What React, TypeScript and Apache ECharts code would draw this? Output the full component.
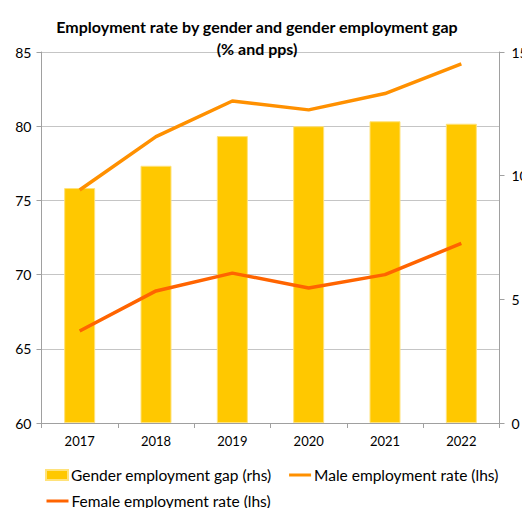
import React, { useEffect, useRef } from "react";
import * as echarts from "echarts";

const years = ["2017", "2018", "2019", "2020", "2021", "2022"];
const genderGap = [9.5, 10.4, 11.6, 12.0, 12.2, 12.1];
const maleRate = [75.7, 79.3, 81.7, 81.1, 82.2, 84.2];
const femaleRate = [66.2, 68.9, 70.1, 69.1, 70.0, 72.1];

const GAP = "Gender employment gap (rhs)";
const MALE = "Male employment rate (lhs)";
const FEMALE = "Female employment rate (lhs)";

const FONT = "Lato";
const AXIS_COLOR = "#a0a0a0";

export default function App() {
  const ref = useRef<HTMLDivElement>(null);
  useEffect(() => {
    if (!ref.current) return;
    const chart = echarts.init(ref.current, undefined, { renderer: "svg" });
    const legendBase = {
      orient: "horizontal",
      itemWidth: 22,
      itemHeight: 10,
      itemGap: 16,
      textStyle: { fontFamily: FONT, fontSize: 15.5, color: "#000", padding: [0, 0, 0, -2] },
      lineStyle: { width: 3 },
    };
    chart.setOption({
      animation: false,
      backgroundColor: "#fff",
      title: {
        text: "Employment rate by gender and gender employment gap\n(% and pps)",
        left: 252,
        textAlign: "center",
        top: 10,
        textStyle: {
          fontFamily: FONT,
          fontWeight: "bold",
          fontSize: 16,
          lineHeight: 22,
          color: "#000",
        },
      },
      legend: [
        {
          ...legendBase,
          left: 40,
          top: 462,
          data: [
            { name: GAP, icon: "rect" },
            { name: MALE, itemStyle: { opacity: 0 } },
          ],
        },
        {
          ...legendBase,
          left: 40,
          top: 488,
          data: [{ name: FEMALE, itemStyle: { opacity: 0 } }],
        },
      ],
      grid: { left: 41.5, right: 22.5, top: 52, bottom: 85, containLabel: false, outerBoundsMode: "none" },
      xAxis: {
        type: "category",
        data: years,
        axisLine: { show: true, lineStyle: { color: AXIS_COLOR, width: 1 } },
        axisTick: { show: true, length: 5, inside: false, lineStyle: { color: AXIS_COLOR } },
        axisLabel: { fontFamily: FONT, fontSize: 13, color: "#000", margin: 11 },
      },
      yAxis: [
        {
          type: "value",
          min: 60,
          max: 85,
          interval: 5,
          position: "left",
          axisLine: { show: true, lineStyle: { color: AXIS_COLOR, width: 1 } },
          axisTick: { show: true, length: 5, inside: false, lineStyle: { color: AXIS_COLOR } },
          axisLabel: { fontFamily: FONT, fontSize: 14, color: "#000", margin: 10 },
          splitLine: { show: true, lineStyle: { color: "#8a8a8a", type: [1, 1], width: 1 } },
        },
        {
          type: "value",
          min: 0,
          max: 15,
          interval: 5,
          position: "right",
          axisLine: { show: true, lineStyle: { color: AXIS_COLOR, width: 1 } },
          axisTick: { show: true, length: 5, inside: false, lineStyle: { color: AXIS_COLOR } },
          axisLabel: { fontFamily: FONT, fontSize: 14, color: "#000", margin: 12 },
          splitLine: { show: false },
        },
      ],
      series: [
        {
          name: GAP,
          type: "bar",
          yAxisIndex: 1,
          data: genderGap,
          barWidth: 31,
          itemStyle: { color: "#FFC800", borderColor: "#FFE27A", borderWidth: 1 },
        },
        {
          name: MALE,
          type: "line",
          yAxisIndex: 0,
          data: maleRate,
          symbol: "none",
          color: "#FF9000",
          lineStyle: { color: "#FF9000", width: 3.5 },
        },
        {
          name: FEMALE,
          type: "line",
          yAxisIndex: 0,
          data: femaleRate,
          symbol: "none",
          color: "#FF6400",
          lineStyle: { color: "#FF6400", width: 3.5 },
        },
      ],
    });
    return () => chart.dispose();
  }, []);
  return (
    <div
      ref={ref}
      style={{ width: 522, height: 508, position: "fixed", left: 0, top: 0 }}
    />
  );
}
